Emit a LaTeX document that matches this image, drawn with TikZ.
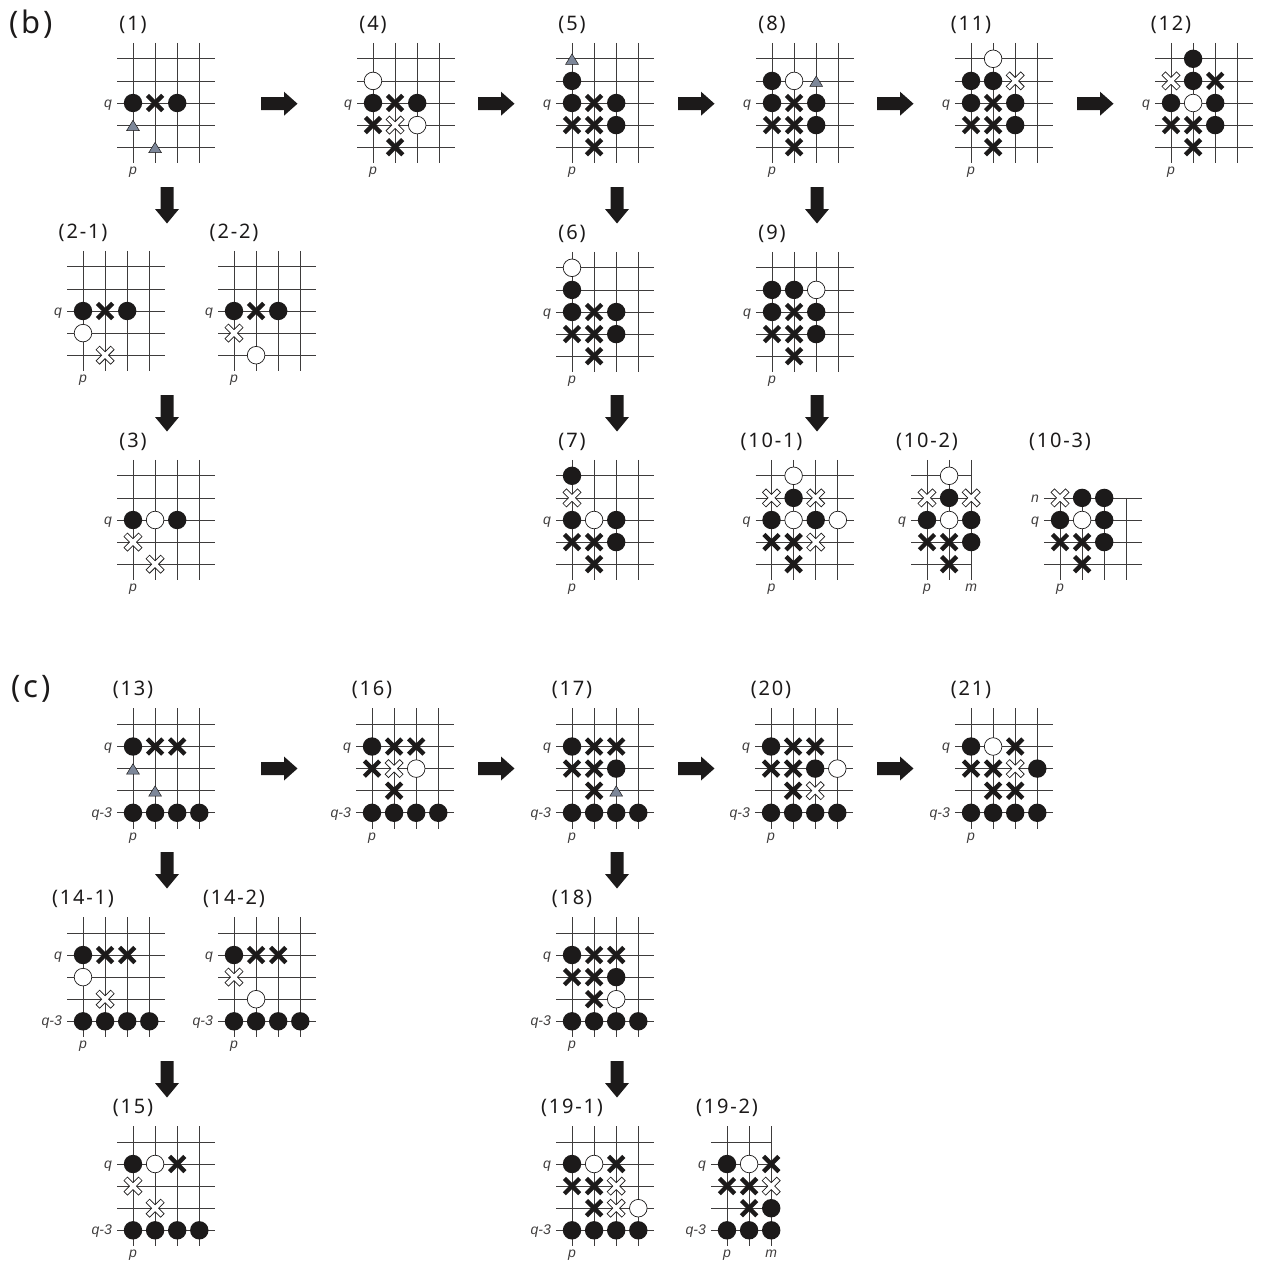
\documentclass[tikz,border=0pt]{standalone}
\usepackage{fontspec}
\setmainfont{Liberation Sans}
\newfontfamily\titlefont[LetterSpace=9]{Noto Sans}
\usetikzlibrary{positioning}
\definecolor{stone}{HTML}{1C1A1A}
\definecolor{marker}{HTML}{7D8799}
\tikzset{
  gridline/.style={line width=0.7pt,color=stone!85},
  blackstone/.style={fill=stone},
  whitestone/.style={fill=white,draw=stone,line width=0.7pt},
  crossmark/.style={draw=stone,line width=4.4pt},
  whiteedge/.style={draw=stone,line width=5.6pt},
  whitecore/.style={draw=white,line width=3.8pt},
  trimark/.style={fill=marker,draw=stone,line width=0.5pt},
  blockarrow/.style={fill=stone},
  tag/.style={font=\titlefont\fontsize{20}{22}\selectfont,text=stone,inner sep=0pt},
  panel/.style={font=\titlefont\fontsize{31}{34}\selectfont,text=stone,inner sep=0pt},
  axislabel/.style={font=\itshape\fontsize{14}{16}\selectfont,text=stone!85,inner sep=0pt}
}
\newcommand{\ifany}[2]{\if\relax\detokenize{#1}\relax\else #2\fi}
% rule lines: right end, last column, top end, first row, last row, bottom end
\newcommand{\rules}[6]{
  \foreach \r in {#4,...,#5} \draw[gridline] (-0.72,\r) -- (#1,\r);
  \foreach \c in {0,...,#2} \draw[gridline] (\c,#3) -- (\c,#6);
}
\newcommand{\gridb}{
  \rules{3.72}{3}{-2.72}{-2}{2}{2.72}
  \node[tag] (\boardname) at (0,-3.55) {\boardtitle};
  \node[axislabel,anchor=base east] (\boardname q) at (-0.95,0.2) {q};
  \node[axislabel,anchor=base] (\boardname p) at (0,3.24) {p};
}
\newcommand{\gridbm}{
  \rules{2}{2}{-2.72}{-2}{2}{2.72}
  \node[tag] (\boardname) at (0,-3.55) {\boardtitle};
  \node[axislabel,anchor=base east] (\boardname q) at (-0.95,0.2) {q};
  \node[axislabel,anchor=base] (\boardname p) at (0,3.24) {p};
  \node[axislabel,anchor=base] (\boardname m) at (2,3.24) {m};
}
\newcommand{\gridbn}{
  \rules{3.72}{3}{-1}{-1}{2}{2.72}
  \node[tag] (\boardname) at (0,-3.55) {\boardtitle};
  \node[axislabel,anchor=base east] (\boardname n) at (-0.95,-0.8) {n};
  \node[axislabel,anchor=base east] (\boardname q) at (-0.95,0.2) {q};
  \node[axislabel,anchor=base] (\boardname p) at (0,3.24) {p};
}
\newcommand{\gridc}{
  \rules{3.72}{3}{-1.72}{-1}{3}{3.72}
  \node[tag] (\boardname) at (0,-2.55) {\boardtitle};
  \node[axislabel,anchor=base east] (\boardname q) at (-0.95,0.2) {q};
  \node[axislabel,anchor=base east] (\boardname r) at (-0.95,3.2) {q-3};
  \node[axislabel,anchor=base] (\boardname p) at (0,4.24) {p};
}
\newcommand{\gridcm}{
  \rules{2}{2}{-1.72}{-1}{3}{3.72}
  \node[tag] (\boardname) at (0,-2.55) {\boardtitle};
  \node[axislabel,anchor=base east] (\boardname q) at (-0.95,0.2) {q};
  \node[axislabel,anchor=base east] (\boardname r) at (-0.95,3.2) {q-3};
  \node[axislabel,anchor=base] (\boardname p) at (0,4.24) {p};
  \node[axislabel,anchor=base] (\boardname m) at (2,4.24) {m};
}
% [grid]{origin}{name}{title}{black}{white}{cross}{white cross}{triangle}
\newcommand{\board}[9][\gridb]{
  \begin{scope}[shift={(#2)},x=22.1pt,y=-22.1pt]
    \def\boardname{#3}
    \def\boardtitle{#4}
    #1
    \ifany{#5}{\foreach \c/\r in {#5} \fill[blackstone] (\c,\r) circle (9.2pt);}
    \ifany{#6}{\foreach \c/\r in {#6} \draw[whitestone] (\c,\r) circle (8.8pt);}
    \ifany{#7}{\foreach \c/\r in {#7} {
      \draw[crossmark] (\c-0.346,\r-0.346) -- (\c+0.346,\r+0.346);
      \draw[crossmark] (\c-0.346,\r+0.346) -- (\c+0.346,\r-0.346);
    }}
    \ifany{#8}{\foreach \c/\r in {#8} {
      \draw[whiteedge] (\c-0.34,\r-0.34) -- (\c+0.34,\r+0.34);
      \draw[whiteedge] (\c-0.34,\r+0.34) -- (\c+0.34,\r-0.34);
      \draw[whitecore] (\c-0.314,\r-0.314) -- (\c+0.314,\r+0.314);
      \draw[whitecore] (\c-0.314,\r+0.314) -- (\c+0.314,\r-0.314);
    }}
    \ifany{#9}{\foreach \c/\r in {#9}
      \draw[trimark] (\c-0.29,\r+0.25) -- (\c+0.29,\r+0.25) -- (\c,\r-0.22) -- cycle;}
  \end{scope}
}
\newcommand{\rightarrowblock}[1]{
  \fill[blockarrow,shift={(#1)}] (0,-6.5) -- (23,-6.5) -- (23,-12) -- (36.5,0) -- (23,12) -- (23,6.5) -- (0,6.5) -- cycle;
}
\newcommand{\downarrowblock}[1]{
  \fill[blockarrow,shift={(#1)}] (-6.5,0) -- (-6.5,22) -- (-12,22) -- (0,36.5) -- (12,22) -- (6.5,22) -- (6.5,0) -- cycle;
}
\begin{document}
\begin{tikzpicture}[x=1pt,y=-1pt]
  \useasboundingbox (0,0) rectangle (1266,1261);
  \node[panel] (panelb) at (31,24) {(b)};
  \node[panel] (panelc) at (31,689) {(c)};

  % panel b
  \board{133,103}{bone}{(1)}{0/0,2/0}{}{1/0}{}{0/1,1/2}
  \board{373,103}{bfour}{(4)}{0/0,2/0}{0/-1,2/1}{1/0,0/1,1/2}{1/1}{}
  \board{572,103}{bfive}{(5)}{0/-1,0/0,2/0,2/1}{}{1/0,0/1,1/1,1/2}{}{0/-2}
  \board{772,103}{beight}{(8)}{0/-1,0/0,2/0,2/1}{1/-1}{1/0,0/1,1/1,1/2}{}{2/-1}
  \board{971,103}{beleven}{(11)}{0/-1,1/-1,0/0,2/0,2/1}{1/-2}{1/0,0/1,1/1,1/2}{2/-1}{}
  \board{1171,103}{btwelve}{(12)}{1/-2,1/-1,0/0,2/0,2/1}{1/0}{2/-1,0/1,1/1,1/2}{0/-1}{}
  \board{83,311}{btwoa}{(2-1)}{0/0,2/0}{0/1}{1/0}{1/2}{}
  \board{234,311}{btwob}{(2-2)}{0/0,2/0}{1/2}{1/0}{0/1}{}
  \board{572,312}{bsix}{(6)}{0/-1,0/0,2/0,2/1}{0/-2}{1/0,0/1,1/1,1/2}{}{}
  \board{772,312}{bnine}{(9)}{0/-1,1/-1,0/0,2/0,2/1}{2/-1}{1/0,0/1,1/1,1/2}{}{}
  \board{133,520}{bthree}{(3)}{0/0,2/0}{1/0}{}{0/1,1/2}{}
  \board{572,520}{bseven}{(7)}{0/-2,0/0,2/0,2/1}{1/0}{0/1,1/1,1/2}{0/-1}{}
  \board{771.5,520}{btena}{(10-1)}{1/-1,0/0,2/0}{1/-2,1/0,3/0}{0/1,1/1,1/2}{0/-1,2/-1,2/1}{}
  \board[\gridbm]{927,520}{btenb}{(10-2)}{1/-1,0/0,2/0,2/1}{1/-2,1/0}{0/1,1/1,1/2}{0/-1,2/-1}{}
  \board[\gridbn]{1060,520}{btenc}{(10-3)}{1/-1,2/-1,0/0,2/0,2/1}{1/0}{0/1,1/1,1/2}{0/-1}{}

  % panel c
  \board[\gridc]{133,746.5}{cthirteen}{(13)}{0/0,0/3,1/3,2/3,3/3}{}{1/0,2/0}{}{0/1,1/2}
  \board[\gridc]{372,746.5}{csixteen}{(16)}{0/0,0/3,1/3,2/3,3/3}{2/1}{1/0,2/0,0/1,1/2}{1/1}{}
  \board[\gridc]{572,746.5}{cseventeen}{(17)}{0/0,2/1,0/3,1/3,2/3,3/3}{}{1/0,2/0,0/1,1/1,1/2}{}{2/2}
  \board[\gridc]{771,746.5}{ctwenty}{(20)}{0/0,2/1,0/3,1/3,2/3,3/3}{3/1}{1/0,2/0,0/1,1/1,1/2}{2/2}{}
  \board[\gridc]{971,746.5}{ctwentyone}{(21)}{0/0,3/1,0/3,1/3,2/3,3/3}{1/0}{2/0,0/1,1/1,1/2,2/2}{2/1}{}
  \board[\gridc]{83,955}{cfourteena}{(14-1)}{0/0,0/3,1/3,2/3,3/3}{0/1}{1/0,2/0}{1/2}{}
  \board[\gridc]{234,955}{cfourteenb}{(14-2)}{0/0,0/3,1/3,2/3,3/3}{1/2}{1/0,2/0}{0/1}{}
  \board[\gridc]{572,955}{ceighteen}{(18)}{0/0,2/1,0/3,1/3,2/3,3/3}{2/2}{1/0,2/0,0/1,1/1,1/2}{}{}
  \board[\gridc]{133,1164}{cfifteen}{(15)}{0/0,0/3,1/3,2/3,3/3}{1/0}{2/0}{0/1,1/2}{}
  \board[\gridc]{572,1164}{cnineteena}{(19-1)}{0/0,0/3,1/3,2/3,3/3}{1/0,3/2}{2/0,0/1,1/1,1/2}{2/1,2/2}{}
  \board[\gridcm]{727,1164}{cnineteenb}{(19-2)}{0/0,2/2,0/3,1/3,2/3}{1/0}{2/0,0/1,1/1,1/2}{2/1}{}

  % arrows
  \foreach \x in {261,478,678,877,1077} {\rightarrowblock{\x,103.7}}
  \foreach \x in {261,478,678,877} {\rightarrowblock{\x,768.5}}
  \foreach \x in {167,617,817} {
    \downarrowblock{\x,187}
    \downarrowblock{\x,395}
  }
  \foreach \x in {167,617} {
    \downarrowblock{\x,852}
    \downarrowblock{\x,1061}
  }
\end{tikzpicture}
\end{document}
